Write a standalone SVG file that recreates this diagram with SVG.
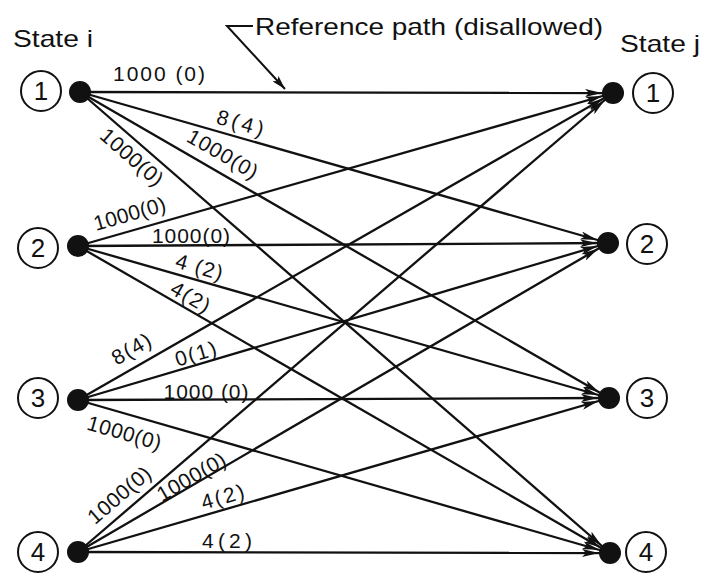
<svg xmlns="http://www.w3.org/2000/svg" width="703" height="574" viewBox="0 0 703 574">
<style>
.e{stroke:#111;stroke-width:2.3;fill:none;marker-end:url(#ah)}
.st{fill:none;stroke:#111;stroke-width:2}
.dot{fill:#111}
.num{font-family:"Liberation Sans",Arial,sans-serif;font-size:26px;fill:#111;text-anchor:middle}
.lb{font-family:"Liberation Sans",Arial,sans-serif;font-size:21px;fill:#111;text-anchor:middle}
.tt{font-family:"Liberation Sans",Arial,sans-serif;font-size:24px;fill:#111}
</style>
<defs>
<marker id="ah" viewBox="0 0 17 8" refX="28" refY="4" markerWidth="17" markerHeight="8" markerUnits="userSpaceOnUse" orient="auto">
<path d="M0,0 L17,4 L0,8 L4,4 z" fill="#111"/>
</marker>
<marker id="ah2" viewBox="0 0 14 8" refX="14" refY="4" markerWidth="14" markerHeight="8" markerUnits="userSpaceOnUse" orient="auto">
<path d="M0,0 L14,4 L0,8 L3,4 z" fill="#111"/>
</marker>
</defs>
<rect width="703" height="574" fill="#ffffff"/>
<g id="titles">
<text class="tt" x="13" y="47" textLength="80" lengthAdjust="spacingAndGlyphs">State i</text>
<text class="tt" x="620" y="52" textLength="80" lengthAdjust="spacingAndGlyphs">State j</text>
<text class="tt" x="255" y="35" textLength="348" lengthAdjust="spacingAndGlyphs">Reference path (disallowed)</text>
<path d="M253,26 H227 L285,89" style="fill:none;stroke:#111;stroke-width:2;marker-end:url(#ah2)"/>
</g>
<g id="connectors">
<line class="e" x1="80" y1="92" x2="613" y2="93"/>
<line class="e" x1="80" y1="92" x2="608" y2="243"/>
<line class="e" x1="80" y1="92" x2="609" y2="398"/>
<line class="e" x1="80" y1="92" x2="610" y2="553"/>
<line class="e" x1="78" y1="246" x2="613" y2="93"/>
<line class="e" x1="78" y1="246" x2="608" y2="243"/>
<line class="e" x1="78" y1="246" x2="609" y2="398"/>
<line class="e" x1="78" y1="246" x2="610" y2="553"/>
<line class="e" x1="78" y1="400" x2="613" y2="93"/>
<line class="e" x1="78" y1="400" x2="608" y2="243"/>
<line class="e" x1="78" y1="400" x2="609" y2="398"/>
<line class="e" x1="78" y1="400" x2="610" y2="553"/>
<line class="e" x1="78" y1="552" x2="613" y2="93"/>
<line class="e" x1="78" y1="552" x2="608" y2="243"/>
<line class="e" x1="78" y1="552" x2="609" y2="398"/>
<line class="e" x1="78" y1="552" x2="610" y2="553"/>
</g>
<g id="labels">
<text class="lb" x="159" y="81" textLength="92">1000 (0)</text>
<text class="lb" transform="translate(240,124) rotate(16)" x="0" y="6" textLength="48">8(4)</text>
<text class="lb" transform="translate(222,155) rotate(30)" x="0" y="6" textLength="78">1000(0)</text>
<text class="lb" transform="translate(131,158) rotate(41)" x="0" y="6" textLength="76">1000(0)</text>
<text class="lb" transform="translate(130,215) rotate(-16)" x="0" y="6" textLength="74">1000(0)</text>
<text class="lb" x="191" y="243" textLength="78">1000(0)</text>
<text class="lb" transform="translate(199,268) rotate(16)" x="0" y="6" textLength="48">4 (2)</text>
<text class="lb" transform="translate(190,298) rotate(30)" x="0" y="6" textLength="42">4(2)</text>
<text class="lb" transform="translate(132,350) rotate(-30)" x="0" y="6" textLength="42">8(4)</text>
<text class="lb" transform="translate(196,355) rotate(-16.5)" x="0" y="6" textLength="42">0(1)</text>
<text class="lb" x="206" y="399" textLength="85">1000 (0)</text>
<text class="lb" transform="translate(124,434) rotate(16)" x="0" y="6" textLength="76">1000(0)</text>
<text class="lb" transform="translate(120,496) rotate(-40.6)" x="0" y="6" textLength="76">1000(0)</text>
<text class="lb" transform="translate(192,478) rotate(-30)" x="0" y="6" textLength="76">1000(0)</text>
<text class="lb" transform="translate(223,498) rotate(-16)" x="0" y="6" textLength="44">4(2)</text>
<text class="lb" x="227" y="548" textLength="50">4(2)</text>
</g>
<g id="i1"><circle class="st" cx="41" cy="91" r="20"/><text class="num" x="41" y="100">1</text><circle class="dot" cx="80" cy="92" r="11"/></g>
<g id="i2"><circle class="st" cx="38" cy="248" r="20"/><text class="num" x="38" y="257">2</text><circle class="dot" cx="78" cy="246" r="11"/></g>
<g id="i3"><circle class="st" cx="38" cy="398" r="20"/><text class="num" x="38" y="407">3</text><circle class="dot" cx="78" cy="400" r="11"/></g>
<g id="i4"><circle class="st" cx="38" cy="552" r="20"/><text class="num" x="38" y="561">4</text><circle class="dot" cx="78" cy="552" r="11"/></g>
<g id="j1"><circle class="st" cx="653" cy="93" r="20"/><text class="num" x="653" y="102">1</text><circle class="dot" cx="613" cy="93" r="11"/></g>
<g id="j2"><circle class="st" cx="647" cy="244" r="20"/><text class="num" x="647" y="253">2</text><circle class="dot" cx="608" cy="243" r="11"/></g>
<g id="j3"><circle class="st" cx="647" cy="398" r="20"/><text class="num" x="647" y="407">3</text><circle class="dot" cx="609" cy="398" r="11"/></g>
<g id="j4"><circle class="st" cx="646" cy="552" r="20"/><text class="num" x="646" y="561">4</text><circle class="dot" cx="610" cy="553" r="11"/></g>
</svg>
